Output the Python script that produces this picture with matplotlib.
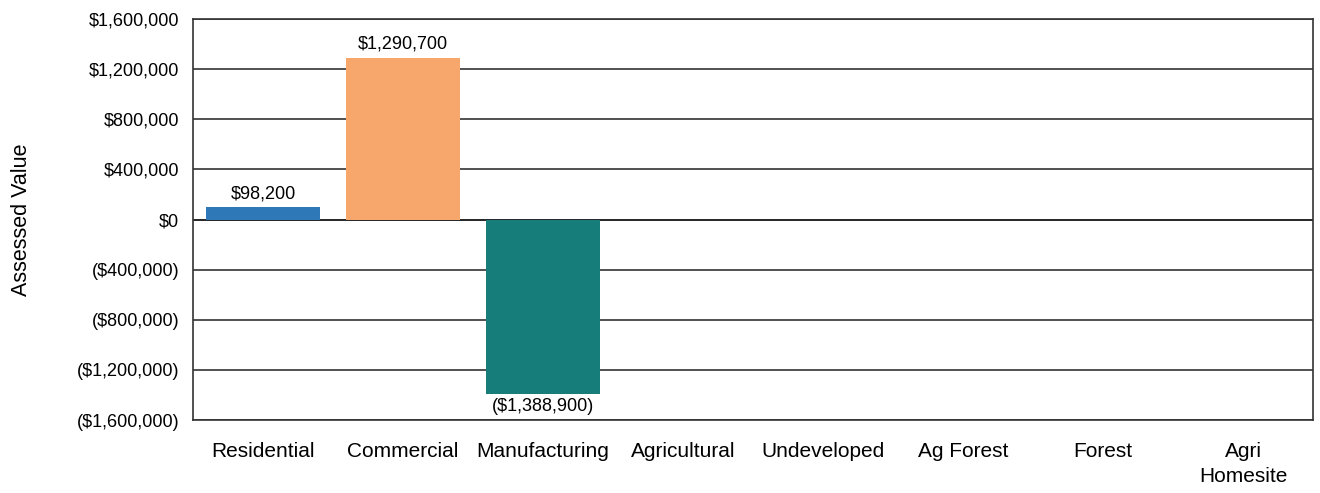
import matplotlib.pyplot as plt
import numpy as np
from matplotlib.ticker import FuncFormatter

plt.rcParams['font.family'] = ['Liberation Sans Narrow', 'Liberation Sans', 'DejaVu Sans']

# change in assessed value by property class
categories = ["Residential", "Commercial", "Manufacturing", "Agricultural",
              "Undeveloped", "Ag Forest", "Forest", "Agri\nHomesite"]
values = [98200, 1290700, -1388900, 0, 0, 0, 0, 0]
bar_colors = ["#2f78b8", "#f7a76c", "#167d7a", "#2f78b8", "#2f78b8",
              "#2f78b8", "#2f78b8", "#2f78b8"]
yticks = [-1600000, -1200000, -800000, -400000, 0, 400000, 800000, 1200000, 1600000]


def money(v, pos=None):
    if v < 0:
        return "(${:,.0f})".format(-v)
    return "${:,.0f}".format(v)


fig = plt.figure(figsize=(13.2, 4.93), dpi=100)
ax = fig.add_axes([0.1462, 0.148, 0.8485, 0.8135])

xpos = np.arange(len(categories))
bars = ax.bar(xpos, values, width=0.81, color=bar_colors, zorder=3)

ax.set_ylim(-1600000, 1600000)
ax.set_xlim(-0.5, len(categories) - 0.5)
ax.set_yticks(yticks)
ax.yaxis.set_major_formatter(FuncFormatter(money))
ax.grid(axis='y', color='#222222', linewidth=1.1, zorder=1)
ax.set_axisbelow(True)
ax.axhline(0, color='#222222', linewidth=1.2, zorder=2)

ax.set_xticks(xpos)
ax.set_xticklabels(categories, fontsize=15, linespacing=1.4)
ax.tick_params(axis='x', length=0, pad=16)
ax.tick_params(axis='y', length=0, labelsize=13, pad=10)
for s in ax.spines.values():
    s.set_color('#333333')
    s.set_linewidth(1.2)

ax.set_ylabel("Assessed Value", fontsize=15.5, labelpad=32)

# value labels on the non-zero bars
for i, v in enumerate(values):
    if v == 0:
        continue
    if v > 0:
        ax.text(i, v + 40000, money(v), ha='center', va='bottom', fontsize=13)
    else:
        ax.text(i, v - 35000, money(v), ha='center', va='top', fontsize=13)

fig.savefig("out.png", dpi=100)
